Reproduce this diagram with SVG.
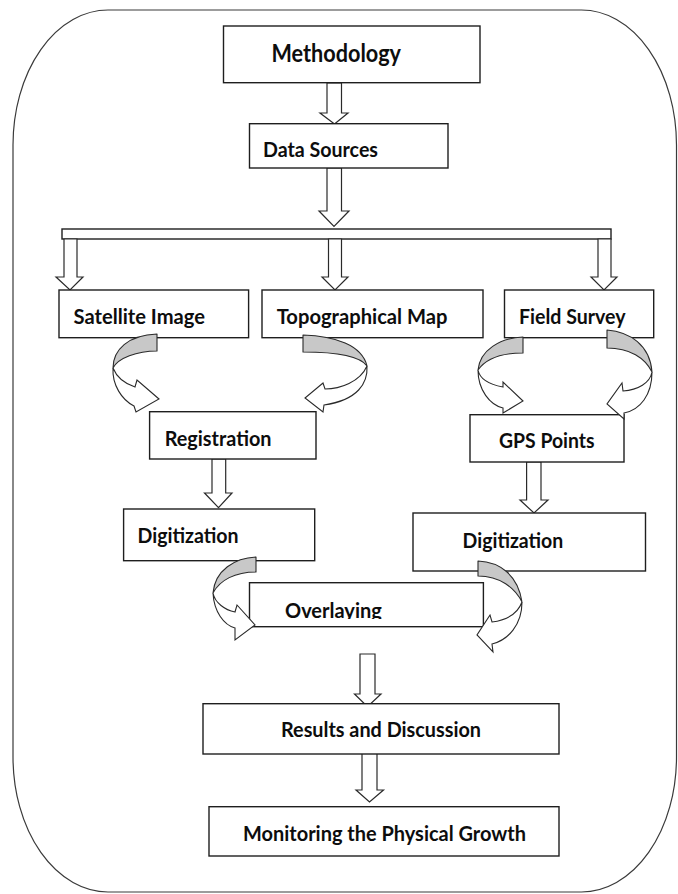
<svg xmlns="http://www.w3.org/2000/svg" width="678" height="894" viewBox="0 0 678 894">
  <style>
    .frame { fill: #ffffff; stroke: #3a3a3a; stroke-width: 1.2; }
    .box { fill: #ffffff; stroke: #1e1e1e; stroke-width: 1.4; }
    .lbl { font-family: Lato, "Liberation Sans", sans-serif; font-weight: bold; font-size: 21px; fill: #0d0d0d; }
    .big { font-size: 24px; }
    .blk { fill: #ffffff; stroke: #2a2a2a; stroke-width: 1.2; stroke-linejoin: miter; }
    .face { fill: #c8c8c8; stroke: #2a2a2a; stroke-width: 1.1; stroke-linejoin: round; }
    .band { fill: #ffffff; stroke: #2a2a2a; stroke-width: 1.1; stroke-linejoin: miter; }
  </style>
  <defs>
    <clipPath id="clipOverlay">
      <rect x="250" y="583" width="233" height="36"/>
    </clipPath>
  </defs>

  <!-- outer rounded frame -->
  <rect class="frame" x="13" y="10" width="663.5" height="882" rx="95" ry="135"/>

  <!-- straight block-arrow connectors -->
  <g id="connectors">
    <path class="blk" d="M327,83 L327,113 L320,113 L334.5,124 L348,113 L341.5,113 L341.5,83 Z"/>
    <path class="blk" d="M327,168 L327,211 L319,211 L334,226.5 L349,211 L341.5,211 L341.5,168 Z"/>
    <rect class="box" x="62" y="229" width="549" height="10"/>
    <path class="blk" d="M64,239 L64,277 L56,277 L70,290 L83,277 L77,277 L77,239 Z"/>
    <path class="blk" d="M328.5,239 L328.5,277 L322,277 L335,290 L348,277 L341.5,277 L341.5,239 Z"/>
    <path class="blk" d="M598,239 L598,277 L591,277 L604,290 L617,277 L611,277 L611,239 Z"/>
    <path class="blk" d="M212,459 L212,493 L204.5,493 L218.5,507.7 L232,493 L225.7,493 L225.7,459 Z"/>
    <path class="blk" d="M526.6,462 L526.6,500 L520,500 L534,513 L548,500 L541,500 L541,462 Z"/>
    <path class="blk" d="M360,654 L360,694 L354.5,694 L367.5,706.7 L381,694 L375,694 L375,654 Z"/>
    <path class="blk" d="M362,751 L362,790 L356,790 L369.5,802 L383.5,790 L377,790 L377,751 Z"/>
  </g>

  <!-- process boxes -->
  <g id="methodology">
    <rect class="box" x="223.5" y="26" width="256.5" height="56.7"/>
    <text class="lbl big" x="271.5" y="62" textLength="129.5" lengthAdjust="spacingAndGlyphs">Methodology</text>
  </g>
  <g id="data-sources">
    <rect class="box" x="249.5" y="123.7" width="198.5" height="44.3"/>
    <text class="lbl" x="263" y="157" textLength="115" lengthAdjust="spacingAndGlyphs">Data Sources</text>
  </g>
  <g id="satellite-image">
    <rect class="box" x="59" y="290" width="189.6" height="47.7"/>
    <text class="lbl" x="73.5" y="324" textLength="131.5" lengthAdjust="spacingAndGlyphs">Satellite Image</text>
  </g>
  <g id="topographical-map">
    <rect class="box" x="262" y="290" width="221" height="47.7"/>
    <text class="lbl" x="276.7" y="324" textLength="170.8" lengthAdjust="spacingAndGlyphs">Topographical Map</text>
  </g>
  <g id="field-survey">
    <rect class="box" x="504.5" y="290" width="149.2" height="47.7"/>
    <text class="lbl" x="519" y="324" textLength="106.6" lengthAdjust="spacingAndGlyphs">Field Survey</text>
  </g>
  <g id="registration">
    <rect class="box" x="149.6" y="411.7" width="166.4" height="47.3"/>
    <text class="lbl" x="164.7" y="445.7" textLength="106.8" lengthAdjust="spacingAndGlyphs">Registration</text>
  </g>
  <g id="gps-points">
    <rect class="box" x="470" y="414.7" width="154" height="47.3"/>
    <text class="lbl" x="499" y="448" textLength="95.5" lengthAdjust="spacingAndGlyphs">GPS Points</text>
  </g>
  <g id="digitization-left">
    <rect class="box" x="123.6" y="509" width="191.1" height="51.7"/>
    <text class="lbl" x="137.5" y="543" textLength="101" lengthAdjust="spacingAndGlyphs">Digitization</text>
  </g>
  <g id="digitization-right">
    <rect class="box" x="413" y="513" width="232.5" height="58"/>
    <text class="lbl" x="462.6" y="547.7" textLength="100.7" lengthAdjust="spacingAndGlyphs">Digitization</text>
  </g>
  <g id="overlaying">
    <rect class="box" x="249.5" y="582.7" width="233.9" height="44"/>
    <text class="lbl" x="285" y="618" textLength="96.8" lengthAdjust="spacingAndGlyphs" clip-path="url(#clipOverlay)">Overlaying</text>
  </g>
  <g id="results-discussion">
    <rect class="box" x="203" y="703.7" width="356" height="50.3"/>
    <text class="lbl" x="281" y="736.7" textLength="200" lengthAdjust="spacingAndGlyphs">Results and Discussion</text>
  </g>
  <g id="monitoring-growth">
    <rect class="box" x="209" y="806.7" width="350" height="49.3"/>
    <text class="lbl" x="243" y="840.7" textLength="283" lengthAdjust="spacingAndGlyphs">Monitoring the Physical Growth</text>
  </g>

  <!-- curved ribbon arrows (shaded underside + white front with head) -->
  <g id="curved-connectors">
    <!-- Satellite Image -> Registration -->
    <path class="face" d="M157,334 C128,335 113,350 113,368 C118,358 137,351 157,351 Z"/>
    <path class="band" d="M113,368 C112,385 122,400 134,406 L136,412 L159,399 L137,380 L135,387 C126,384 117,378 113,368 Z"/>
    <!-- Topographical Map -> Registration -->
    <path class="face" d="M303,335 C335,336 362,345 367,366 C360,356 335,352 303,352 Z"/>
    <path class="band" d="M367,366 C368,383 358,400 324,405 L323,412 L305,398 L323,383 L325,389 C340,389 360,382 367,366 Z"/>
    <!-- Field Survey -> GPS Points (left) -->
    <path class="face" d="M523,337 C500,338 480,350 478,370 C485,360 500,353 523,353 Z"/>
    <path class="band" d="M478,370 C478,390 490,405 503,408 L503,413 L523,401 L503,382 L503,387 C492,385 480,380 478,370 Z"/>
    <!-- Field Survey -> GPS Points (right) -->
    <path class="face" d="M607,330 C630,332 650,345 652,372 C645,358 630,348 607,348 Z"/>
    <path class="band" d="M652,372 C652,395 640,410 624,413 L624,419 L607,404 L622,383 L623,391 C638,390 650,383 652,372 Z"/>
    <!-- Digitization (left) -> Overlaying -->
    <path class="face" d="M256,557 C235,558 215,570 213,593 C220,580 235,572 256,572 Z"/>
    <path class="band" d="M213,593 C214,612 224,625 235,628 L235,640 L255,625 L237,605 L235,612 C225,610 215,603 213,593 Z"/>
    <!-- Digitization (right) -> Overlaying -->
    <path class="face" d="M478,561 C500,562 518,575 522,602 C515,588 500,576 478,576 Z"/>
    <path class="band" d="M522,602 C522,625 508,640 492,644 L493,652 L477,635 L490,615 L492,622 C507,620 518,613 522,602 Z"/>
  </g>
</svg>
